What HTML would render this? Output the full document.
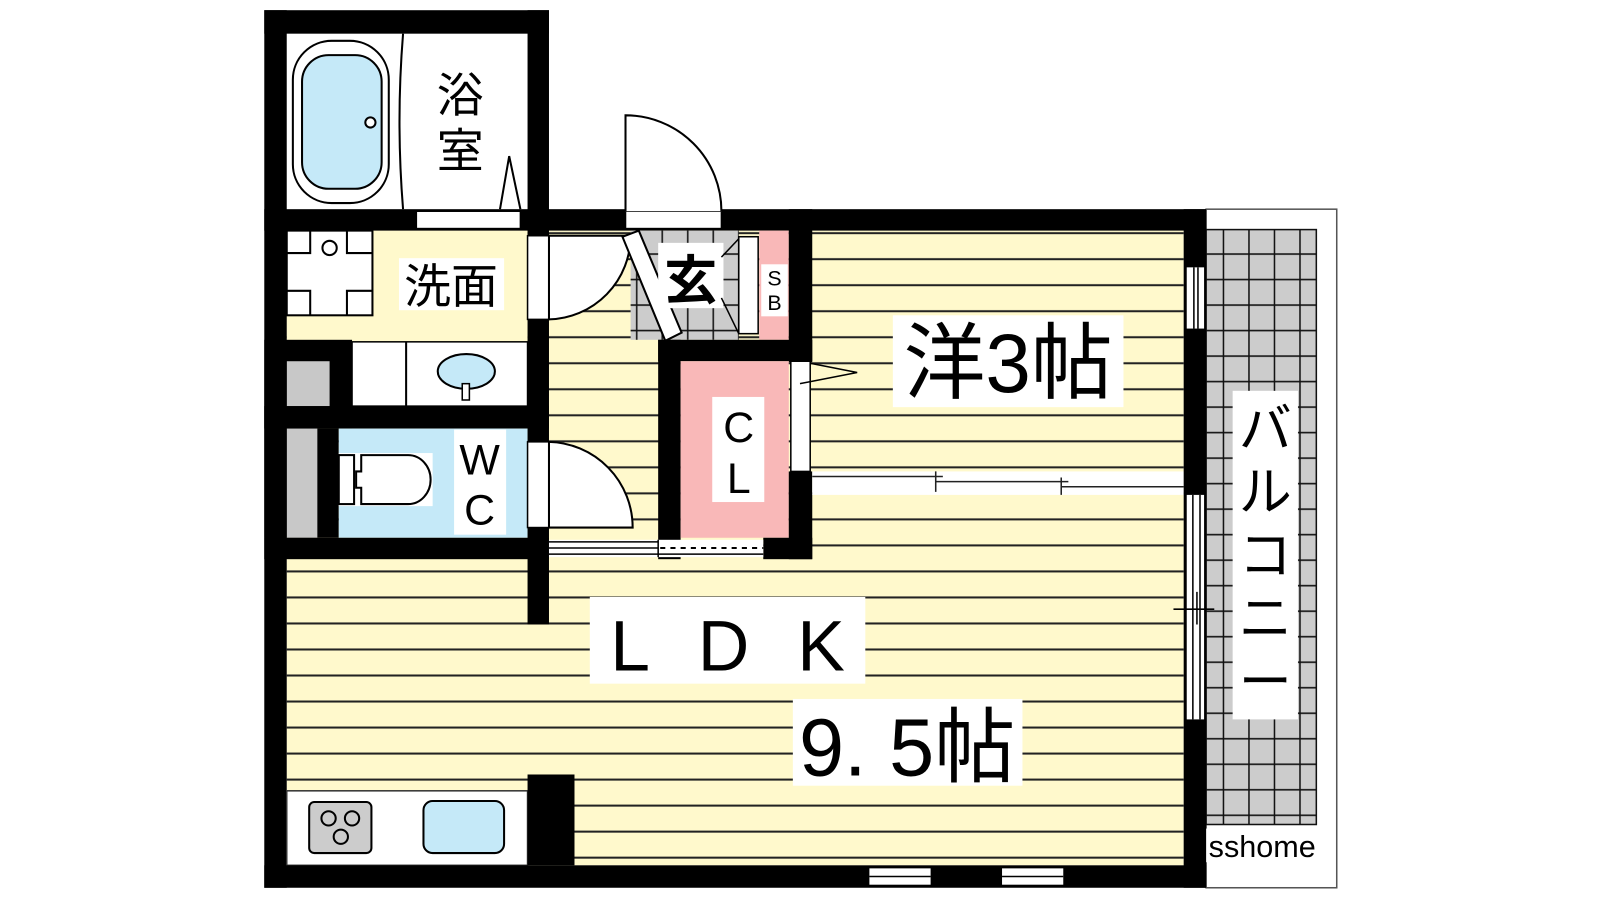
<!DOCTYPE html>
<html><head><meta charset="utf-8"><style>
html,body{margin:0;padding:0;background:#fff;width:1600px;height:900px;overflow:hidden}
svg{display:block}
text{font-family:"Liberation Sans","Noto Sans CJK JP",sans-serif;fill:#000}
</style></head><body>
<svg width="1600" height="900" viewBox="0 0 1568 882" xmlns="http://www.w3.org/2000/svg">
<defs>
<pattern id="st" x="0" y="0" width="40" height="25.5" patternUnits="userSpaceOnUse">
<rect width="40" height="25.5" fill="#fff9cc"/><rect y="23.5" width="40" height="2" fill="#222"/>
</pattern>
<pattern id="tile" x="0" y="0" width="25" height="25" patternUnits="userSpaceOnUse">
<rect width="25" height="25" fill="#cccccc"/><path d="M24 0V25M0 24H25" stroke="#111" stroke-width="1.5"/>
</pattern>
</defs>
<rect x="1182" y="205" width="128" height="665" fill="#fff" stroke="#555" stroke-width="1.5"/>
<rect x="1182" y="225" width="108" height="583" fill="url(#tile)" stroke="#111" stroke-width="1.5"/>
<rect x="1208" y="383" width="64" height="322" fill="#fff"/>
<g font-size="52" text-anchor="middle">
<text x="1240" y="438">バ</text><text x="1240" y="500">ル</text><text x="1240" y="562">コ</text><text x="1240" y="624">ニ</text><text x="1240" y="686">ー</text>
</g>
<rect x="1180" y="812" width="114" height="33" fill="#fff"/>
<text x="1237" y="840" font-size="30" text-anchor="middle">sshome</text>

<rect x="281" y="226" width="879" height="622" fill="url(#st)"/>
<rect x="281" y="33" width="236" height="172" fill="#fff"/>
<rect x="287" y="40" width="94" height="159" rx="38" fill="#fff" stroke="#000" stroke-width="2"/>
<rect x="296" y="54" width="78" height="131" rx="26" fill="#c5e9f8" stroke="#000" stroke-width="2"/>
<circle cx="363" cy="120" r="5" fill="#fff" stroke="#000" stroke-width="2"/>
<path d="M395 33 Q388 119 395 205" fill="none" stroke="#000" stroke-width="2"/>
<polyline points="490,205 499,153 510,205" fill="none" stroke="#000" stroke-width="2"/>
<g font-size="46" text-anchor="middle"><text x="451" y="110">浴</text><text x="451" y="164">室</text></g>
<rect x="281" y="226" width="236" height="107" fill="#fff9cc"/>
<rect x="281" y="226" width="84" height="83" fill="#fff" stroke="#000" stroke-width="2"/>
<path d="M304 226V248H281M340 226V248H365M304 309V285H281M340 309V285H365" fill="none" stroke="#000" stroke-width="2"/>
<circle cx="323" cy="243" r="7" fill="#fff" stroke="#000" stroke-width="2"/>
<rect x="391" y="253" width="103" height="51" fill="#fff"/>
<text x="442" y="297" font-size="46" text-anchor="middle">洗面</text>
<rect x="259" y="333" width="86" height="87" fill="#000"/>
<rect x="281" y="354" width="42" height="44" fill="#c8c8c8"/>
<rect x="345" y="335" width="172" height="63" fill="#fff" stroke="#000" stroke-width="1.5"/>
<line x1="398" y1="335" x2="398" y2="398" stroke="#000" stroke-width="2"/>
<ellipse cx="457" cy="364" rx="28" ry="17" fill="#c5e9f8" stroke="#000" stroke-width="2"/>
<rect x="453" y="376" width="7" height="16" fill="#fff" stroke="#000" stroke-width="1.5"/>
<rect x="259" y="398" width="279" height="22" fill="#000"/>
<rect x="259" y="420" width="73" height="107" fill="#000"/>
<rect x="281" y="420" width="30" height="107" fill="#c8c8c8"/>
<rect x="332" y="420" width="185" height="107" fill="#c5e9f8"/>
<rect x="332" y="444" width="92" height="52" fill="#fff"/>
<rect x="332" y="446" width="15" height="48" fill="#fff" stroke="#000" stroke-width="2"/>
<path d="M354 446H400A22 24 0 0 1 400 494H354V478H349V462H354Z" fill="#fff" stroke="#000" stroke-width="2"/>
<rect x="445" y="421" width="51" height="103" fill="#fff"/>
<g font-size="42" text-anchor="middle"><text x="470" y="465">W</text><text x="470" y="514">C</text></g>
<rect x="259" y="527" width="279" height="21" fill="#000"/>
<rect x="259" y="10" width="279" height="23" fill="#000"/>
<rect x="259" y="10" width="22" height="860" fill="#000"/>
<rect x="517" y="10" width="21" height="216" fill="#000"/>
<rect x="259" y="205" width="279" height="21" fill="#000"/>
<rect x="408" y="207" width="102" height="17" fill="#fff" stroke="#000" stroke-width="1.5"/>
<rect x="517" y="205" width="21" height="407" fill="#000"/>
<rect x="538" y="205" width="644" height="21" fill="#000"/>
<rect x="517" y="231" width="21" height="82" fill="#fff" stroke="#000" stroke-width="1.5"/>
<path d="M538 231V313A82 82 0 0 0 618 231Z" fill="#fff" stroke="#000" stroke-width="2"/>
<rect x="517" y="433" width="21" height="84" fill="#fff" stroke="#000" stroke-width="1.5"/>
<path d="M538 517V433A84 84 0 0 1 620 517Z" fill="#fff" stroke="#000" stroke-width="2"/>
<rect x="613" y="207" width="94" height="17" fill="#fff" stroke="#000" stroke-width="1.5"/>
<path d="M613 207V113A94 94 0 0 1 707 207" fill="#fff" stroke="#000" stroke-width="2"/>
<rect x="618" y="226" width="106" height="107" fill="url(#tile)"/>
<polygon points="610,232 626,226 668,326 652,334" fill="#fff" stroke="#000" stroke-width="2"/>
<rect x="645" y="238" width="64" height="64" fill="#fff"/>
<text x="677" y="293" font-size="52" text-anchor="middle" font-weight="bold">玄</text>
<rect x="724" y="232" width="19" height="95" fill="#fff" stroke="#000" stroke-width="1.5"/>
<polyline points="724,234 707,252" fill="none" stroke="#000" stroke-width="1.5"/>
<line x1="707" y1="292" x2="724" y2="327" stroke="#000" stroke-width="1.5"/>
<rect x="744" y="226" width="29" height="107" fill="#f9b8b8"/>
<rect x="746" y="259" width="26" height="51" fill="#fff"/>
<g font-size="21" text-anchor="middle"><text x="759" y="280">S</text><text x="759" y="304">B</text></g>
<rect x="773" y="205" width="23" height="150" fill="#000"/>
<rect x="645" y="333" width="151" height="21" fill="#000"/>
<rect x="645" y="333" width="22" height="215" fill="#000"/>
<rect x="667" y="354" width="106" height="173" fill="#f9b8b8"/>
<rect x="698" y="389" width="51" height="103" fill="#fff"/>
<g font-size="42" text-anchor="middle"><text x="724" y="433">C</text><text x="724" y="483">L</text></g>
<rect x="775" y="354" width="19" height="108" fill="#fff" stroke="#000" stroke-width="1.5"/>
<polyline points="794,356 840,365 784,376" fill="none" stroke="#000" stroke-width="1.5"/>
<rect x="773" y="462" width="23" height="86" fill="#000"/>
<rect x="748" y="527" width="48" height="21" fill="#000"/>
<rect x="538" y="529" width="210" height="17" fill="#fff"/>
<path d="M538 531H645M538 537H645M538 543H748M645 529V546" stroke="#000" stroke-width="1.5"/>
<line x1="647" y1="537" x2="748" y2="537" stroke="#000" stroke-width="2" stroke-dasharray="5,5"/>
<rect x="796" y="462" width="364" height="23" fill="#fff"/>
<path d="M796 467H917M917 472H1040M1040 477H1160M917 462V482M1040 468V485M910 467H924M1033 472H1047" stroke="#222" stroke-width="1.5"/>
<rect x="875" y="309" width="226" height="90" fill="#fff"/>
<text x="988" y="384" font-size="82" text-anchor="middle" textLength="205" lengthAdjust="spacingAndGlyphs">洋3帖</text>
<rect x="578" y="585" width="270" height="85" fill="#fff"/>
<text x="713" y="657" font-size="70" text-anchor="middle" textLength="230" lengthAdjust="spacing">LDK</text>
<rect x="777" y="685" width="225" height="85" fill="#fff"/>
<text x="889" y="760" font-size="80" text-anchor="middle" textLength="212" lengthAdjust="spacingAndGlyphs">9. 5帖</text>
<rect x="281" y="775" width="236" height="73" fill="#fff" stroke="#333" stroke-width="1.5"/>
<rect x="517" y="759" width="46" height="89" fill="#000"/>
<rect x="303" y="786" width="61" height="50" rx="5" fill="#ccc" stroke="#000" stroke-width="2"/>
<g fill="none" stroke="#000" stroke-width="2"><circle cx="322" cy="802" r="7"/><circle cx="345" cy="802" r="7"/><circle cx="334" cy="820" r="7"/></g>
<rect x="415" y="785" width="79" height="51" rx="9" fill="#c5e9f8" stroke="#000" stroke-width="2"/>
<rect x="259" y="848" width="923" height="22" fill="#000"/>
<rect x="852" y="851" width="60" height="16" fill="#fff"/><rect x="982" y="851" width="60" height="16" fill="#fff"/>
<path d="M852 859H912M982 859H1042" stroke="#000" stroke-width="1.5"/>
<rect x="1160" y="205" width="22" height="665" fill="#000"/>
<rect x="1163" y="262" width="17" height="60" fill="#fff"/>
<rect x="1163" y="485" width="17" height="220" fill="#fff"/>
<path d="M1170 262V322M1174 262V322M1169 485V705M1176 485V705M1150 597H1190M1173 580V612" stroke="#000" stroke-width="1.5"/>
</svg>
</body></html>
